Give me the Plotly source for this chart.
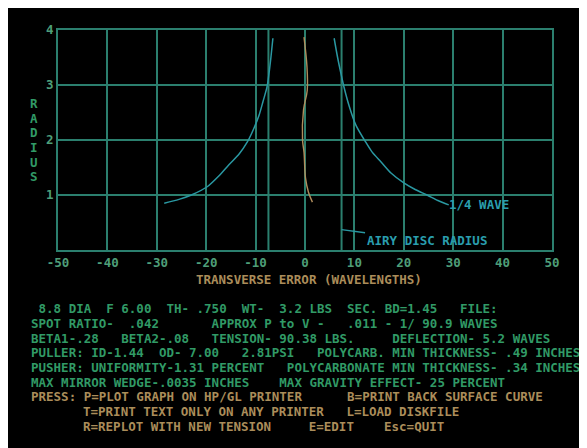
import plotly.graph_objects as go

# ---------------- data ----------------
x_tick_vals = [-50, -40, -30, -20, -10, 0, 10, 20, 30, 40, 50]
y_tick_vals = [0, 1, 2, 3, 4]
y_tick_text = ["", "1", "2", "3", "4"]

# quarter-wave tolerance curve, left branch
qw_left_error = [-6.5, -6.9, -7.3, -7.7, -8.5, -9.3, -10.4, -11.7, -13.3, -15.4, -17.4,
                 -19.8, -23.0, -25.5, -28.5]
qw_left_radius = [3.85, 3.5, 3.2, 2.96, 2.7, 2.45, 2.2, 1.96, 1.75, 1.55, 1.35,
                  1.15, 1.0, 0.92, 0.85]
# quarter-wave tolerance curve, right branch
qw_right_error = [5.9, 6.6, 7.3, 7.9, 9.0, 10.3, 12.3, 13.6, 15.4, 17.4, 20.0,
                  22.3, 24.7, 26.9, 29.1]
qw_right_radius = [3.85, 3.5, 3.2, 2.96, 2.6, 2.27, 1.96, 1.78, 1.6, 1.4, 1.22,
                   1.1, 1.0, 0.9, 0.82]
# mirror transverse error
mirror_error = [-0.2, 0.4, 0.45, -0.3, -0.5, -0.2, 0.1, 0.7, 1.5]
mirror_radius = [3.87, 3.33, 2.9, 2.55, 2.0, 1.78, 1.31, 1.05, 0.87]
# Airy disc radius (waves)
airy_radius = 7.4
airy_span = [0, 4]
airy_label_radius = 0.37

# text block: (row, start column, text, colour key)
text_rows = [20, 21, 22, 23, 24, 25, 26, 27, 28]
text_cols = [3, 3, 3, 3, 3, 3, 3, 10, 10]
text_kinds = ["g", "g", "g", "g", "g", "g", "t", "t", "t"]
text_lines = [
    " 8.8 DIA  F 6.00  TH- .750  WT-  3.2 LBS  SEC. BD=1.45   FILE:",
    "SPOT RATIO-  .042       APPROX P to V -   .011 - 1/ 90.9 WAVES",
    "BETA1-.28   BETA2-.08   TENSION- 90.38 LBS.     DEFLECTION- 5.2 WAVES",
    "PULLER: ID-1.44  OD- 7.00   2.81PSI   POLYCARB. MIN THICKNESS- .49 INCHES",
    "PUSHER: UNIFORMITY-1.31 PERCENT   POLYCARBONATE MIN THICKNESS- .34 INCHES",
    "MAX MIRROR WEDGE-.0035 INCHES    MAX GRAVITY EFFECT- 25 PERCENT",
    "PRESS: P=PLOT GRAPH ON HP/GL PRINTER      B=PRINT BACK SURFACE CURVE",
    "T=PRINT TEXT ONLY ON ANY PRINTER   L=LOAD DISKFILE",
    "R=REPLOT WITH NEW TENSION     E=EDIT    Esc=QUIT",
]
y_title_letters = ["R", "A", "D", "I", "U", "S"]
y_title_rows = [6, 7, 8, 9, 10, 11]
x_title = "TRANSVERSE ERROR (WAVELENGTHS)"
qw_label = "1/4 WAVE"
airy_label = "AIRY DISC RADIUS"

# ---------------- style ----------------
BG = "#000000"
GRID = "#2b7f6e"
CURVE = "#2a98a2"
CYAN_TXT = "#2a9eae"
ORANGE = "#b08d5c"
GREEN_TXT = "#319a66"
TAN_TXT = "#ab8d5a"
TICK_TXT = "#4e9e78"
FONT = "DejaVu Sans Mono"
FS = 12.5


def bold(s):
    return "<b>" + s + "</b>"


OFF = 8          # page offset of the figure
W, H = 579, 440
PL, PR, PT, PB = 58, 552, 30, 250   # plot area in page pixels
CW, X0 = 7.5, 8.4                   # character cell width, column-0 left
RH, Y0 = 14.67, 8.0                 # row height, row-0 top


def pxx(xp):
    return (xp - PL) / (PR - PL)


def pxy(yp):
    return (PB - yp) / (PB - PT)


fig = go.Figure()

fig.add_trace(go.Scatter(x=[-airy_radius, -airy_radius], y=airy_span, mode="lines",
                         line=dict(color=GRID, width=2), hoverinfo="skip"))
fig.add_trace(go.Scatter(x=[airy_radius, airy_radius], y=airy_span, mode="lines",
                         line=dict(color=GRID, width=2), hoverinfo="skip"))
fig.add_trace(go.Scatter(x=qw_left_error, y=qw_left_radius, mode="lines",
                         line=dict(color=CURVE, width=1.5, shape="spline", smoothing=0.8)))
fig.add_trace(go.Scatter(x=qw_right_error, y=qw_right_radius, mode="lines",
                         line=dict(color=CURVE, width=1.5, shape="spline", smoothing=0.8)))
fig.add_trace(go.Scatter(x=mirror_error, y=mirror_radius, mode="lines",
                         line=dict(color=ORANGE, width=1.4, shape="spline")))

ann = []
ann.append(dict(x=qw_right_error[-1], y=qw_right_radius[-1], xref="x", yref="y",
                text=bold(qw_label), showarrow=False, xanchor="left", yanchor="middle",
                xshift=-2, font=dict(family=FONT, size=FS, color=CYAN_TXT)))
ann.append(dict(x=airy_radius, y=airy_label_radius, xref="x", yref="y",
                text=bold(airy_label), showarrow=True, arrowhead=0, arrowwidth=1.4,
                arrowcolor=CURVE, ax=85, ay=11, standoff=0,
                font=dict(family=FONT, size=FS, color=CYAN_TXT)))
ann.append(dict(x=pxx(X0 + 25 * CW), y=pxy(Y0 + RH * 18.5), xref="paper", yref="paper",
                text=bold(x_title.replace(" ", "\u00a0")), showarrow=False,
                xanchor="left", yanchor="middle", xshift=-2,
                font=dict(family=FONT, size=FS, color=TAN_TXT)))
for letter, row in zip(y_title_letters, y_title_rows):
    ann.append(dict(x=pxx(X0 + 3 * CW), y=pxy(Y0 + RH * (row + 0.5)),
                    xref="paper", yref="paper", text=bold(letter), showarrow=False,
                    xanchor="left", yanchor="middle", xshift=-3,
                    font=dict(family=FONT, size=FS, color=GREEN_TXT)))
for row, col, kind, line in zip(text_rows, text_cols, text_kinds, text_lines):
    ann.append(dict(x=pxx(X0 + col * CW), y=pxy(Y0 + RH * (row + 0.5)),
                    xref="paper", yref="paper", text=bold(line.replace(" ", "\u00a0")),
                    showarrow=False, xanchor="left", yanchor="middle", xshift=-2,
                    font=dict(family=FONT, size=FS,
                              color=GREEN_TXT if kind == "g" else TAN_TXT)))

fig.update_layout(
    width=W, height=H,
    margin=dict(l=PL - OFF, r=W - (PR - OFF), t=PT - OFF, b=H - (PB - OFF), pad=0),
    paper_bgcolor=BG, plot_bgcolor=BG,
    showlegend=False,
    annotations=ann,
    font=dict(family=FONT, size=FS, color=TICK_TXT),
)
fig.update_xaxes(range=[-50, 50], tickvals=x_tick_vals,
                 ticktext=[bold(str(v)) for v in x_tick_vals], showgrid=True, gridcolor=GRID,
                 gridwidth=2, zeroline=False, showline=True, mirror=True, linecolor=GRID,
                 linewidth=2, ticks="", tickfont=dict(family=FONT, size=FS, color=TICK_TXT))
fig.update_yaxes(range=[0, 4], tickvals=y_tick_vals,
                 ticktext=[bold(t) if t else t for t in y_tick_text], showgrid=True,
                 gridcolor=GRID, gridwidth=2, zeroline=False, showline=True, mirror=True,
                 linecolor=GRID, linewidth=2, ticks="",
                 tickfont=dict(family=FONT, size=FS, color=TICK_TXT))

fig.write_html("out.html")
